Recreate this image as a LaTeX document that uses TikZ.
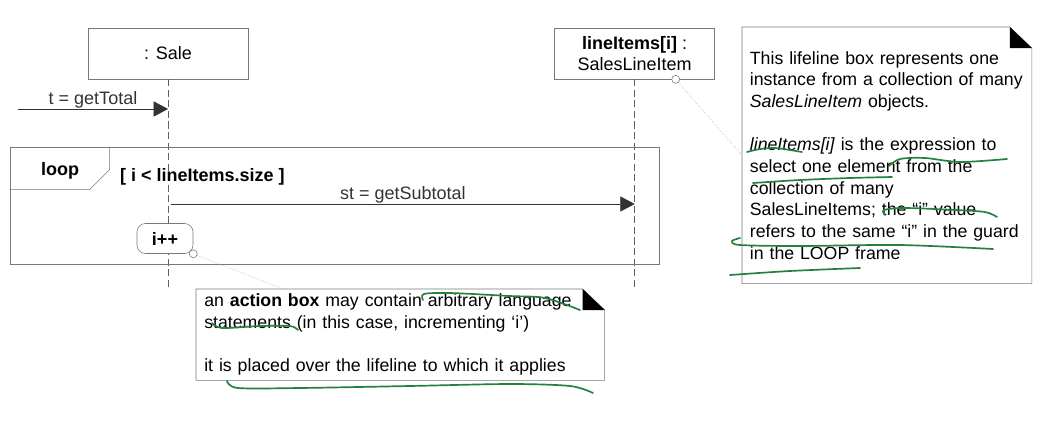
\documentclass[tikz,border=0pt]{standalone}
\usepackage{xcolor}
\usepackage{fontspec}
\setmainfont{Liberation Sans}
\usepackage{tikz}
\usetikzlibrary{arrows.meta, positioning, calc}

\definecolor{penGreen}{RGB}{36,128,62}
\definecolor{edgeGray}{RGB}{120,120,120}

\begin{document}
\begin{tikzpicture}[
        x=0.025cm, y=-0.025cm,
        lifebox/.style={rectangle, draw=edgeGray, fill=white, minimum width=4cm, minimum height=1.275cm, align=center, font=\fontsize{12.8}{15.4}\selectfont, inner sep=1pt},
        lifeline/.style={edgeGray!80!black, dash pattern=on 5pt off 2.5pt},
        msg/.style={black!80, -{Triangle[length=0.36cm, width=0.38cm]}},
        lbl/.style={font=\fontsize{12.8}{15.4}\selectfont, inner sep=2pt},
        frame/.style={rectangle, draw=edgeGray, minimum width=16.225cm, minimum height=2.925cm},
        actbox/.style={rectangle, rounded corners=6pt, draw=edgeGray, fill=white, minimum width=1.4cm, minimum height=0.75cm, font=\fontsize{12.8}{15.4}\selectfont\bfseries},
        knob/.style={circle, draw=edgeGray, fill=white, minimum size=0.2cm, inner sep=0pt},
        note/.style={rectangle, draw=none, align=left, font=\fontsize{12.6}{15.4}\selectfont, anchor=north west},
        noteline/.style={draw=edgeGray},
        hint/.style={gray!70, densely dotted},
        scribble/.style={penGreen, line width=1.2pt, line cap=round}
    ]
        \useasboundingbox (0,0) rectangle (1052,447);

        % Lifeline heads
        \node (sale) [lifebox] at (168,53.5) {: Sale};
        \node (items) [lifebox, right=7.65cm of sale] {\textbf{lineItems[i]} :\\SalesLineItem};
        \node (itemsKnob) [knob] at ([xshift=1.025cm]items.south) {};

        \coordinate (bottom) at (0,290);
        \draw [lifeline] (sale.south) -- (sale.south |- bottom);
        \draw [lifeline] (items.south) -- (items.south |- bottom);

        % Loop frame
        \node (loopframe) [frame] at (334.5,205.5) {};
        \draw [edgeGray] (loopframe.north west) ++(0,43) -- ++(80,0) -- ++(20,-20) -- ++(0,-23);
        \node (looptag) [lbl, font=\fontsize{12.8}{15.4}\selectfont\bfseries] at (60,171) {loop};
        \node (guard) [lbl, font=\fontsize{12.8}{15.4}\selectfont\bfseries, anchor=west] at (117,177) {[ i < lineItems.size ]};

        % Messages
        \coordinate (caller) at (18,109);
        \draw [msg] (caller) -- node[lbl, above, yshift=-2pt] {t = getTotal} (caller -| sale);
        \coordinate (stFrom) at (171,204);
        \draw [msg] (stFrom) -- node[lbl, above, yshift=-2pt] {st = getSubtotal} (stFrom -| items);

        % Action box
        \node (incr) [actbox] at (165,238.5) {i++};
        \node (incrKnob) [knob] at (incr.south east) {};

        % Notes
        \node (lineNote) [note, text width=6.85cm, inner xsep=0.19cm, minimum height=6.4cm] at (742,27) {%
            This lifeline box represents one\\
            instance from a collection of many\\
            \textit{SalesLineItem} objects.\\[15.4pt]
            \textit{lineItems[i]} is the expression to\\
            select one element from the\\
            collection of many\\
            SalesLineItems; the “i” value\\
            refers to the same “i” in the guard\\
            in the LOOP frame};
        \node (actNote) [note, text width=9.8cm, inner xsep=0.2cm, minimum height=2.15cm] at (196,289) {%
            an \textbf{action box} may contain arbitrary language\\
            statements (in this case, incrementing ‘i’)\\[15.4pt]
            it is placed over the lifeline to which it applies};

        \foreach \n in {lineNote, actNote} {
            \draw [noteline] (\n.north west) -- ($(\n.north east)+(-22,0)$) -- ($(\n.north east)+(0,21)$) -- (\n.south east) -- (\n.south west) -- cycle;
            \fill ($(\n.north east)+(-22,0)$) -- ($(\n.north east)+(-22,21)$) -- ($(\n.north east)+(0,21)$) -- cycle;
        }

        % Note links
        \draw [hint] (itemsKnob) -- (lineNote.west);
        \draw [hint] (incrKnob) -- ([xshift=2.175cm]actNote.north west);

        % Pen marks
        \draw [scribble] plot[smooth] coordinates {(747,152) (760,149) (775,148) (790,150) (802,152)};
        \draw [scribble] plot[smooth] coordinates {(889,166) (900,159) (925,158) (960,162) (1007,159)};
        \draw [scribble] plot[smooth] coordinates {(753,183) (800,180) (850,178) (892,177)};
        \draw [scribble] plot[smooth] coordinates {(885,215) (884,210) (905,208) (955,210) (985,212) (997,217)};
        \draw [scribble] plot[smooth] coordinates {(740,238) (732,241) (740,245) (800,246) (900,245) (993,249)};
        \draw [scribble] plot[smooth] coordinates {(730,275) (790,271) (860,268)};
        \draw [scribble] plot[smooth] coordinates {(423,300) (424,294) (450,293) (510,296) (545,298) (580,310)};
        \draw [scribble] plot[smooth] coordinates {(212,323) (222,328) (260,326) (290,326) (298,330)};
        \draw [scribble] plot[smooth] coordinates {(227,381) (238,388) (300,388) (410,386) (510,384) (570,386) (593,393)};
    \end{tikzpicture}
\end{document}
